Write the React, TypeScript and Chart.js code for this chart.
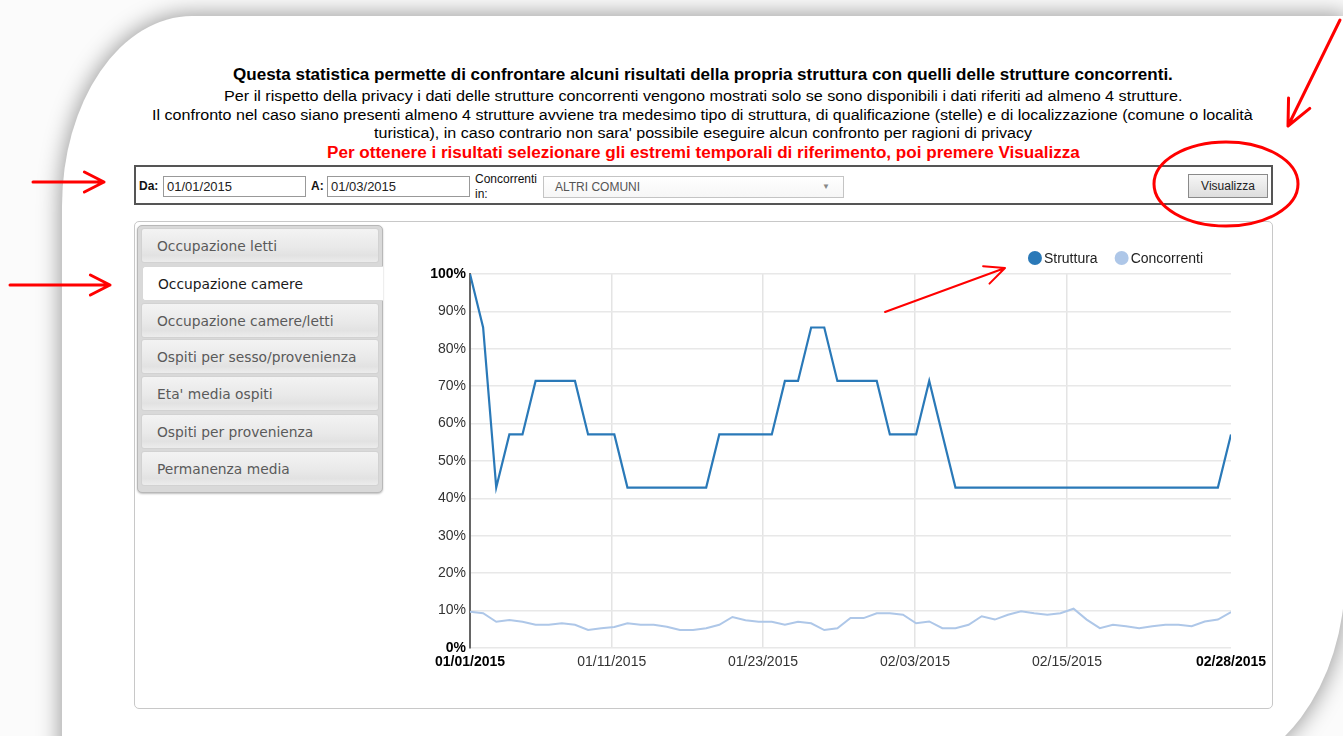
import React, { useEffect, useLayoutEffect, useRef } from "react";
import { Chart, registerables } from "chart.js";

Chart.register(...registerables);

// ---------- data ----------
const seriesNames = ["Struttura", "Concorrenti"];
const seriesColors = ["#2a79b8", "#aec7e8"];

const struttura = [
  100, 85.7, 42.9, 57.1, 57.1, 71.4, 71.4, 71.4, 71.4, 57.1,
  57.1, 57.1, 42.9, 42.9, 42.9, 42.9, 42.9, 42.9, 42.9, 57.1,
  57.1, 57.1, 57.1, 57.1, 71.4, 71.4, 85.7, 85.7, 71.4, 71.4,
  71.4, 71.4, 57.1, 57.1, 57.1, 71.4, 57.1, 42.9, 42.9, 42.9,
  42.9, 42.9, 42.9, 42.9, 42.9, 42.9, 42.9, 42.9, 42.9, 42.9,
  42.9, 42.9, 42.9, 42.9, 42.9, 42.9, 42.9, 42.9, 57.1,
];

const concorrenti = [
  9.7, 9.3, 7.0, 7.5, 7.0, 6.2, 6.2, 6.6, 6.2, 4.8,
  5.3, 5.6, 6.6, 6.2, 6.2, 5.7, 4.8, 4.8, 5.3, 6.2,
  8.3, 7.4, 7.0, 7.0, 6.2, 7.0, 6.6, 4.8, 5.3, 8.0,
  8.0, 9.3, 9.3, 8.9, 6.6, 7.1, 5.3, 5.3, 6.2, 8.5,
  7.6, 8.9, 9.8, 9.3, 8.9, 9.3, 10.5, 7.6, 5.3, 6.2,
  5.8, 5.3, 5.8, 6.2, 6.2, 5.8, 7.1, 7.6, 9.6,
];

const xTickPositions = [0, 10.8, 22.33, 33.92, 45.5, 58];
const xTickLabels = ["01/01/2015", "01/11/2015", "01/23/2015", "02/03/2015", "02/15/2015", "02/28/2015"];

const menuItems = [
  "Occupazione letti",
  "Occupazione camere",
  "Occupazione camere/letti",
  "Ospiti per sesso/provenienza",
  "Eta' media ospiti",
  "Ospiti per provenienza",
  "Permanenza media",
];
const activeMenu = 1;

const headerLines = [
  "Questa statistica permette di confrontare alcuni risultati della propria struttura con quelli delle strutture concorrenti.",
  "Per il rispetto della privacy i dati delle strutture concorrenti vengono mostrati solo se sono disponibili i dati riferiti ad almeno 4 strutture.",
  "Il confronto nel caso siano presenti almeno 4 strutture avviene tra medesimo tipo di struttura, di qualificazione (stelle) e di localizzazione (comune o località",
  "turistica), in caso contrario non sara' possibile eseguire alcun confronto per ragioni di privacy",
  "Per ottenere i risultati selezionare gli estremi temporali di riferimento, poi premere Visualizza",
];

const ARIAL = '"Liberation Sans", Arial, sans-serif';
const VERDANA = '"DejaVu Sans", Verdana, sans-serif';

// ---------- helpers ----------
function FitLine(props: { text: string; left: number; width: number; cy: number; size: number; bold?: boolean; color?: string }) {
  const ref = useRef<HTMLSpanElement>(null);
  useLayoutEffect(() => {
    const fit = () => {
      const el = ref.current;
      if (!el) return;
      el.style.transform = "none";
      const w = el.offsetWidth;
      if (w > 0) el.style.transform = `scaleX(${props.width / w})`;
    };
    fit();
    if ((document as any).fonts && (document as any).fonts.ready) (document as any).fonts.ready.then(fit);
  }, []);
  return (
    <span
      ref={ref}
      style={{
        position: "absolute",
        left: props.left,
        top: props.cy - 10,
        lineHeight: "20px",
        height: 20,
        whiteSpace: "nowrap",
        transformOrigin: "0 0",
        fontFamily: ARIAL,
        fontSize: props.size,
        fontWeight: props.bold ? "bold" : "normal",
        color: props.color || "#000",
      }}
    >
      {props.text}
    </span>
  );
}

function arrowPath(x1: number, y1: number, x2: number, y2: number, len: number, ang: number) {
  const back = Math.atan2(y1 - y2, x1 - x2);
  const a = (ang * Math.PI) / 180;
  const w1x = x2 + len * Math.cos(back + a);
  const w1y = y2 + len * Math.sin(back + a);
  const w2x = x2 + len * Math.cos(back - a);
  const w2y = y2 + len * Math.sin(back - a);
  return `M${x1},${y1} L${x2},${y2} M${w1x},${w1y} L${x2},${y2} L${w2x},${w2y}`;
}

const legendPlugin = {
  id: "topRightLegend",
  afterDraw(chart: any) {
    const ctx = chart.ctx;
    const area = chart.chartArea;
    ctx.save();
    ctx.font = `14px ${ARIAL}`;
    ctx.textBaseline = "middle";
    const ds = chart.data.datasets;
    const r = 7;
    const gapText = 16;
    const gapItem = 17;
    let total = 0;
    ds.forEach((d: any, i: number) => {
      total += gapText + ctx.measureText(d.label).width + (i < ds.length - 1 ? gapItem : 0);
    });
    let x = area.right - 28 - total;
    const y = area.top - 16;
    ds.forEach((d: any) => {
      ctx.fillStyle = d.borderColor;
      ctx.beginPath();
      ctx.arc(x + r, y, r, 0, Math.PI * 2);
      ctx.fill();
      ctx.fillStyle = "#222";
      ctx.fillText(d.label, x + gapText, y + 1);
      x += gapText + ctx.measureText(d.label).width + gapItem;
    });
    ctx.restore();
  },
};

function LineChart() {
  const ref = useRef<HTMLCanvasElement>(null);
  useEffect(() => {
    if (!ref.current) return;
    const last = xTickLabels.length - 1;
    const chart = new Chart(ref.current, {
      type: "line",
      data: {
        datasets: [
          {
            label: seriesNames[0],
            data: struttura.map((v, i) => ({ x: i, y: v })),
            borderColor: seriesColors[0],
            backgroundColor: seriesColors[0],
            borderWidth: 2.2,
            pointRadius: 0,
            tension: 0,
            order: 1,
          },
          {
            label: seriesNames[1],
            data: concorrenti.map((v, i) => ({ x: i, y: v })),
            borderColor: seriesColors[1],
            backgroundColor: seriesColors[1],
            borderWidth: 2,
            pointRadius: 0,
            tension: 0,
            order: 2,
          },
        ],
      },
      options: {
        animation: false,
        responsive: false,
        maintainAspectRatio: false,
        events: [],
        layout: { padding: { top: 39, right: 49, left: 0, bottom: 0 } },
        plugins: { legend: { display: false }, tooltip: { enabled: false } },
        scales: {
          x: {
            type: "linear",
            min: 0,
            max: struttura.length - 1,
            afterBuildTicks: (s: any) => {
              s.ticks = xTickPositions.map((v) => ({ value: v }));
            },
            afterFit: (s: any) => {
              s.height = 32;
            },
            ticks: {
              autoSkip: false,
              maxRotation: 0,
              padding: 6,
              callback: (_v: any, i: number) => xTickLabels[i],
              font: (c: any) => ({ family: ARIAL, size: 14, weight: c.index === 0 || c.index === last ? "bold" : "normal" }),
              color: (c: any) => (c.index === 0 || c.index === last ? "#000" : "#333"),
            },
            grid: {
              color: (c: any) => (c.index === last ? "rgba(0,0,0,0)" : "#e4e4e4"),
              drawTicks: false,
              lineWidth: 1.5,
            },
            border: { display: false },
          },
          y: {
            min: 0,
            max: 100,
            afterFit: (s: any) => {
              s.width = 70;
            },
            ticks: {
              stepSize: 10,
              padding: 4,
              callback: (v: any) => v + "%",
              font: (c: any) => ({
                family: ARIAL,
                size: 14,
                weight: c.tick && (c.tick.value === 0 || c.tick.value === 100) ? "bold" : "normal",
              }),
              color: (c: any) => (c.tick && (c.tick.value === 0 || c.tick.value === 100) ? "#000" : "#333"),
            },
            grid: { color: "#e8e8e8", drawTicks: false, lineWidth: 1.5 },
            border: { display: true, color: "#666", width: 2 },
          },
        },
      },
      plugins: [legendPlugin],
    } as any);
    return () => chart.destroy();
  }, []);
  return (
    <canvas
      ref={ref}
      width={880}
      height={445}
      style={{ position: "absolute", left: 400, top: 235, width: 880, height: 445 }}
    />
  );
}

export default function App() {
  const tabTops = [228, 266, 303, 339, 376, 414, 451];
  return (
    <div style={{ position: "fixed", left: 0, top: 0, width: 1343, height: 736, overflow: "hidden", background: "#fbfbfb" }}>
      {/* page sheet */}
      <div
        style={{
          position: "absolute",
          left: 62,
          top: 16,
          width: 1283,
          height: 760,
          background: "#fff",
          borderRadius: "130px 0 150px 0 / 190px 0 200px 0",
          boxShadow: "0 0 22px 2px rgba(0,0,0,0.38)",
        }}
      />

      {/* header */}
      <FitLine text={headerLines[0]} left={233} width={940} cy={75} size={16} bold />
      <FitLine text={headerLines[1]} left={224} width={959} cy={96} size={14} />
      <FitLine text={headerLines[2]} left={152} width={1101} cy={115} size={14} />
      <FitLine text={headerLines[3]} left={374} width={658} cy={133} size={14} />
      <FitLine text={headerLines[4]} left={327} width={753} cy={153} size={16} bold color="#ff0000" />

      {/* filter bar */}
      <div style={{ position: "absolute", left: 134, top: 165, width: 1135, height: 36, border: "2px solid #555", background: "#fff" }} />
      <span style={{ position: "absolute", left: 139, top: 179, fontFamily: ARIAL, fontSize: 12, fontWeight: "bold", color: "#111" }}>Da:</span>
      <div style={{ position: "absolute", left: 163, top: 176, width: 138, height: 19, border: "1px solid #999", background: "#fff", fontFamily: ARIAL, fontSize: 13, lineHeight: "19px", paddingLeft: 3, boxSizing: "content-box", color: "#222" }}>01/01/2015</div>
      <span style={{ position: "absolute", left: 311, top: 179, fontFamily: ARIAL, fontSize: 12, fontWeight: "bold", color: "#111" }}>A:</span>
      <div style={{ position: "absolute", left: 327, top: 176, width: 138, height: 19, border: "1px solid #999", background: "#fff", fontFamily: ARIAL, fontSize: 13, lineHeight: "19px", paddingLeft: 3, color: "#222" }}>01/03/2015</div>
      <div style={{ position: "absolute", left: 475, top: 172, fontFamily: ARIAL, fontSize: 12, lineHeight: "15px", color: "#111" }}>
        Concorrenti
        <br />
        in:
      </div>
      <div style={{ position: "absolute", left: 543, top: 176, width: 299, height: 20, border: "1px solid #c4c4c4", background: "linear-gradient(#ffffff, #f6f6f6)" }} />
      <span style={{ position: "absolute", left: 555, top: 180, fontFamily: ARIAL, fontSize: 12, color: "#555" }}>ALTRI COMUNI</span>
      <span style={{ position: "absolute", left: 822, top: 182, fontFamily: ARIAL, fontSize: 8, color: "#888" }}>▼</span>
      <div
        style={{
          position: "absolute",
          left: 1188,
          top: 174,
          width: 78,
          height: 22,
          border: "1px solid #8a8a8a",
          background: "linear-gradient(#f6f6f6, #dedede)",
          fontFamily: ARIAL,
          fontSize: 12,
          lineHeight: "22px",
          textAlign: "center",
          color: "#222",
        }}
      >
        Visualizza
      </div>

      {/* main panel */}
      <div style={{ position: "absolute", left: 134, top: 221, width: 1137, height: 486, border: "1px solid #c8c8c8", borderRadius: 5, background: "#fff" }} />

      {/* sidebar */}
      <div
        style={{
          position: "absolute",
          left: 137,
          top: 225,
          width: 244,
          height: 266,
          border: "1px solid #b8b8b8",
          borderRadius: 5,
          background: "#d9d9d9",
          boxShadow: "0 1px 2px rgba(0,0,0,0.25)",
        }}
      />
      {menuItems.map((m, i) => {
        const active = i === activeMenu;
        return (
          <div
            key={m}
            style={{
              position: "absolute",
              left: active ? 142 : 141,
              top: tabTops[i],
              width: active ? 241 : 238,
              height: 35,
              borderRadius: active ? "3px 0 0 3px" : 3,
              border: active ? "1px solid #d8d8d8" : "1px solid #d2d2d2",
              borderRight: active ? "none" : "1px solid #d2d2d2",
              background: active ? "#ffffff" : "linear-gradient(#f3f3f3, #e9e9e9 55%, #e2e2e2 80%, #ececec)",
              boxSizing: "border-box",
              fontFamily: VERDANA,
              fontSize: 13.8,
              lineHeight: "35px",
              paddingLeft: 15,
              color: active ? "#1a1a1a" : "#5a5a5a",
              whiteSpace: "nowrap",
            }}
          >
            {m}
          </div>
        );
      })}

      <LineChart />

      {/* annotations */}
      <svg width={1343} height={736} style={{ position: "absolute", left: 0, top: 0, pointerEvents: "none" }}>
        <g fill="none" stroke="#ff0000" strokeLinecap="round" strokeLinejoin="round">
          <path d={arrowPath(1340, 20, 1288, 126, 28, 25)} strokeWidth={3} />
          <path d={arrowPath(33, 182, 104, 182, 22, 27)} strokeWidth={3} />
          <path d={arrowPath(10, 285, 110, 285, 22, 27)} strokeWidth={3} />
          <path d={arrowPath(885, 312, 1005, 268, 22, 25)} strokeWidth={2} />
          <ellipse cx={1226} cy={184} rx={72} ry={42} strokeWidth={3} />
        </g>
      </svg>
    </div>
  );
}
